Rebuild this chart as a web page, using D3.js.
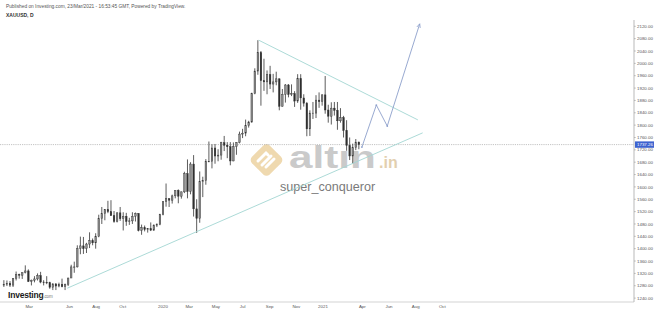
<!DOCTYPE html>
<html>
<head>
<meta charset="utf-8">
<script src="https://cdn.jsdelivr.net/npm/d3@7"></script>
<style>
body{margin:0;background:#fff;}
svg{display:block;font-family:"Liberation Sans",Arial,sans-serif;}
</style>
</head>
<body>
<svg id="chart" width="654" height="311"></svg>
<script>
// weekly XAU/USD candles, week of 31 Dec 2018 .. week of 22 Mar 2021
var wkOpen = [1282,1285,1288,1282,1303,1317,1314,1322,1328,1294,1298,1302,1313,1292,1291,1290,1275,1286,1279,1285,1277,1284,1305,1341,1341,1400,1409,1400,1415,1426,1419,1440,1497,1513,1527,1520,1507,1488,1516,1497,1505,1488,1490,1505,1514,1459,1468,1462,1465,1460,1476,1478,
  1511,1552,1562,1557,1571,1589,1570,1584,1643,1585,1674,1529,1498,1617,1620,1683,1683,1726,1700,1703,1743,1735,1730,1684,1730,1743,1771,1774,1798,1810,1902,1975,2035,1944,1940,1964,1933,1940,1950,1861,1900,1930,1899,1902,1878,1951,1888,1871,1788,1839,1839,1881,
  1876,1898,1849,1829,1855,1848,1814,1824,1783,1734,1700,1727,1745];
var wkHigh = [1298,1297,1295,1305,1326,1319,1323,1346,1333,1300,1311,1320,1325,1298,1311,1293,1288,1288,1290,1303,1287,1306,1348,1358,1411,1439,1438,1419,1453,1433,1450,1510,1535,1528,1555,1557,1522,1518,1535,1518,1516,1500,1518,1517,1515,1478,1475,1465,1485,1479,1482,1513,
  1553,1611,1563,1575,1589,1592,1585,1649,1689,1680,1703,1560,1650,1633,1690,1747,1738,1739,1722,1746,1765,1745,1745,1744,1745,1779,1788,1818,1814,1905,1984,2075,2040,2015,1977,1992,1966,1973,1951,1917,1933,1933,1932,1910,1965,1965,1900,1875,1848,1875,1897,1906,
  1900,1959,1866,1874,1875,1875,1855,1830,1816,1760,1740,1755,1747];
var wkLow = [1276,1279,1276,1276,1297,1303,1302,1320,1292,1281,1291,1297,1288,1281,1285,1270,1266,1266,1275,1275,1266,1279,1305,1322,1339,1382,1383,1386,1402,1411,1400,1437,1480,1492,1515,1506,1484,1485,1490,1459,1474,1477,1480,1488,1456,1445,1456,1452,1457,1458,1470,1476,
  1508,1536,1535,1546,1563,1547,1562,1580,1563,1576,1504,1451,1484,1567,1607,1680,1660,1675,1683,1688,1716,1693,1670,1683,1704,1741,1758,1764,1792,1808,1900,1963,1863,1911,1900,1917,1906,1929,1848,1860,1873,1890,1894,1859,1872,1850,1860,1764,1765,1820,1823,1856,
  1863,1837,1808,1802,1831,1785,1808,1760,1717,1687,1676,1719,1722];
var wkClose = [1285,1288,1282,1303,1317,1314,1322,1328,1294,1298,1302,1313,1292,1291,1290,1275,1286,1279,1285,1277,1284,1305,1341,1341,1400,1409,1400,1415,1426,1419,1440,1497,1513,1527,1520,1507,1488,1516,1497,1505,1488,1490,1505,1514,1459,1468,1462,1465,1460,1476,1478,1511,
  1552,1562,1557,1571,1589,1570,1584,1643,1585,1674,1529,1498,1617,1620,1683,1683,1726,1700,1703,1743,1735,1730,1684,1730,1743,1771,1774,1798,1810,1902,1975,2035,1944,1940,1964,1933,1940,1950,1861,1900,1930,1899,1902,1878,1951,1888,1871,1788,1839,1839,1881,1876,
  1898,1849,1829,1855,1848,1814,1824,1783,1734,1700,1727,1745,1737];

var yTicks = [2120,2080,2040,2000,1960,1920,1880,1840,1800,1760,1720,1680,1640,1600,1560,1520,1480,1440,1400,1360,1320,1280,1240];
var xTickDates = ["2019-03-01","2019-06-01","2019-08-01","2019-10-01","2020-01-01","2020-03-01","2020-05-01","2020-07-01","2020-09-01","2020-11-01","2021-01-01","2021-04-01","2021-06-01","2021-08-01","2021-10-01"];
var xTickLabels = ["Mar","Jun","Aug","Oct","2020","Mar","May","Jul","Sep","Nov","2021","Apr","Jun","Aug","Oct"];

// drawn annotations: [date, price]
var upperLine = [["2020-08-07",2075],["2021-08-06",1817]];
var lowerLine = [["2019-05-27",1272],["2021-08-17",1775]];
var projection = [["2021-03-31",1729],["2021-05-03",1865],["2021-05-28",1797],["2021-08-10",2127]];
var lastPrice = 1737;

var svg = d3.select("#chart");
var W = 654, H = 311;
var plotRight = 634, plotBottom = 302;
var parse = d3.timeParse("%Y-%m-%d");

svg.append("rect").attr("width", W).attr("height", H).attr("fill", "#fff");

var x = d3.scaleTime()
    .domain([parse("2020-01-01"), parse("2021-01-01")])
    .range([163, 323]);
var y = d3.scaleLinear()
    .domain([1240, 2120])
    .range([298.1, 26.3]);

var weeks = d3.timeMonday.range(parse("2018-12-31"), parse("2021-03-23"));
var candles = weeks.map(function(d, i){
  return {date: d3.timeDay.offset(d, 2), o: wkOpen[i], h: wkHigh[i], l: wkLow[i], c: wkClose[i]};
});

// header
svg.append("text").attr("x", 6).attr("y", 7.5)
  .attr("font-size", 4.8).attr("fill", "#555")
  .text("Published on Investing.com, 23/Mar/2021 - 16:53:45 GMT, Powered by TradingView.");
svg.append("text").attr("x", 6).attr("y", 16.5)
  .attr("font-size", 5).attr("font-weight", "bold").attr("fill", "#333")
  .text("XAUUSD, D");

// watermark
var wm = svg.append("g").attr("opacity", 0.8);
wm.append("rect").attr("x", -12.5).attr("y", -12.5).attr("width", 25).attr("height", 25).attr("rx", 4.5)
  .attr("transform", "translate(266.5,160) rotate(45)")
  .attr("fill", "#ecd09c");
wm.append("path").attr("d", "M258,161 L266,153 L268,155 M262,165 L271,156 M266,167 L274,159")
  .attr("fill", "none").attr("stroke", "#fff").attr("stroke-width", 3).attr("stroke-linecap", "round");
wm.append("text").attr("transform", "translate(289,167.5) scale(1.36,1)")
  .attr("font-size", 31).attr("font-weight", "bold").attr("fill", "#bdbdbd")
  .text("altın");
wm.append("text").attr("x", 379).attr("y", 167.5)
  .attr("font-size", 16).attr("font-weight", "bold").attr("fill", "#dcc49c")
  .text(".in");
svg.append("text").attr("x", 280).attr("y", 191)
  .attr("font-size", 12.6).attr("fill", "#7a7a7a")
  .text("super_conqueror");

// last price dotted line
svg.append("line")
  .attr("x1", 0).attr("x2", plotRight)
  .attr("y1", y(lastPrice)).attr("y2", y(lastPrice))
  .attr("stroke", "#9a9a9a").attr("stroke-width", 0.6).attr("stroke-dasharray", "1.2,1");

// candles
var cg = svg.append("g");
cg.selectAll("line.wick").data(candles).join("line")
  .attr("class", "wick")
  .attr("x1", function(d){ return x(d.date); })
  .attr("x2", function(d){ return x(d.date); })
  .attr("y1", function(d){ return y(d.h); })
  .attr("y2", function(d){ return y(d.l); })
  .attr("stroke", "#333").attr("stroke-width", 0.8);
cg.selectAll("rect.body").data(candles).join("rect")
  .attr("class", "body")
  .attr("x", function(d){ return x(d.date) - 0.8; })
  .attr("width", 1.6)
  .attr("y", function(d){ return y(Math.max(d.o, d.c)); })
  .attr("height", function(d){ return Math.max(0.6, Math.abs(y(d.o) - y(d.c))); })
  .attr("fill", function(d){ return d.c >= d.o ? "#8a8a8a" : "#2e2e2e"; })
  .attr("stroke", "#333").attr("stroke-width", 0.4);

// trend lines
function pt(p){ return [x(parse(p[0])), y(p[1])]; }
var line = d3.line();
[upperLine, lowerLine].forEach(function(l){
  svg.append("path").attr("d", line(l.map(pt)))
    .attr("fill", "none").attr("stroke", "#a3d6d3").attr("stroke-width", 0.9);
});

// projection path
svg.append("defs").append("marker")
  .attr("id", "arr").attr("viewBox", "0 0 10 10").attr("refX", 8).attr("refY", 5)
  .attr("markerWidth", 5).attr("markerHeight", 5).attr("orient", "auto")
  .append("path").attr("d", "M0,1 L9,5 L0,9").attr("fill", "none")
  .attr("stroke", "#8c9fcb").attr("stroke-width", 1.6);
svg.append("path").attr("d", line(projection.map(pt)))
  .attr("fill", "none").attr("stroke", "#8c9fcb").attr("stroke-width", 0.9)
  .attr("marker-end", "url(#arr)");
svg.selectAll("circle.node").data(projection.slice(0, 3)).join("circle")
  .attr("class", "node")
  .attr("cx", function(d){ return pt(d)[0]; })
  .attr("cy", function(d){ return pt(d)[1]; })
  .attr("r", 0.9).attr("fill", "#8c9fcb");

// right price axis
svg.append("line").attr("x1", plotRight).attr("x2", plotRight).attr("y1", 20).attr("y2", plotBottom)
  .attr("stroke", "#8a8a8a").attr("stroke-width", 0.6);
var yAxis = svg.append("g");
yAxis.selectAll("line").data(yTicks).join("line")
  .attr("x1", plotRight).attr("x2", plotRight + 1.8)
  .attr("y1", function(d){ return y(d); }).attr("y2", function(d){ return y(d); })
  .attr("stroke", "#8a8a8a").attr("stroke-width", 0.5);
yAxis.selectAll("text").data(yTicks).join("text")
  .attr("x", plotRight + 3).attr("y", function(d){ return y(d) + 1.6; })
  .attr("font-size", 4.4).attr("fill", "#555")
  .text(d3.format(".2f"));

// last price tag
svg.append("rect").attr("x", plotRight + 1).attr("y", y(lastPrice) - 3.2)
  .attr("width", 19).attr("height", 6.4).attr("fill", "#3d63cf");
svg.append("text").attr("x", plotRight + 3).attr("y", y(lastPrice) + 1.6)
  .attr("font-size", 4.4).attr("fill", "#fff")
  .text("1737.26");

// bottom time axis
svg.append("line").attr("x1", 0).attr("x2", plotRight).attr("y1", plotBottom).attr("y2", plotBottom)
  .attr("stroke", "#b5b5b5").attr("stroke-width", 0.6);
var xAxis = svg.append("g");
xAxis.selectAll("text").data(xTickDates).join("text")
  .attr("x", function(d){ return x(parse(d)); }).attr("y", 308)
  .attr("text-anchor", "middle").attr("font-size", 4.4).attr("fill", "#555")
  .text(function(d, i){ return xTickLabels[i]; });

// investing.com logo
var logo = svg.append("text").attr("x", 8).attr("y", 297.5)
  .attr("font-size", 8.5).attr("font-weight", "bold").attr("fill", "#1a1a1a")
  .attr("letter-spacing", -0.2);
logo.append("tspan").text("Investing");
logo.append("tspan").attr("font-size", 4.5).attr("font-weight", "normal").attr("fill", "#777").text(".com");
</script>
</body>
</html>
